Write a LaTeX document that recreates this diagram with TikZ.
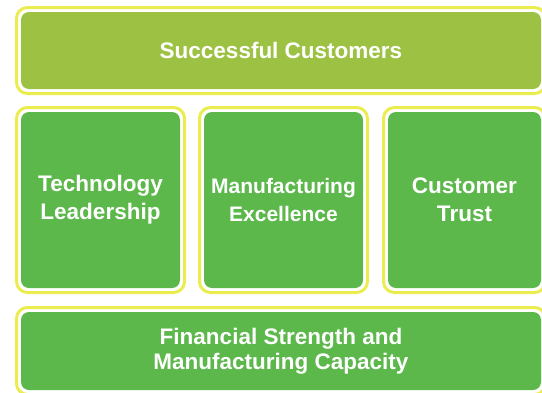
\documentclass[tikz,border=0pt]{standalone}
\usepackage{fontspec}
\setmainfont{Liberation Sans}
\usetikzlibrary{positioning,fit}
\definecolor{pillargreen}{RGB}{92,184,75}
\definecolor{roofgreen}{RGB}{157,194,67}
\definecolor{frameyellow}{RGB}{234,236,80}

\begin{document}
\begin{tikzpicture}[x=1pt, y=-1pt, node distance=23pt,
    block/.style={rectangle, fill=pillargreen, rounded corners=8pt, inner sep=0pt, outer sep=0pt,
      align=center, text=white, font=\fontsize{22.5}{28}\selectfont\bfseries},
    roof/.style={block, fill=roofgreen, minimum width=520pt, minimum height=77pt},
    pillar/.style={block, minimum width=159pt, minimum height=176pt},
    frame/.style={rectangle, draw=frameyellow, line width=3pt, rounded corners=11pt, inner sep=4.5pt}]
    \useasboundingbox (0,0) rectangle (542,392);
    \node [roof] (customers) at (281,50.5) {Successful Customers};
    \node [pillar, below=of customers.south west, anchor=north west] (technology) {Technology\\Leadership};
    \node [pillar, right=24pt of technology, font=\fontsize{21}{27.5}\selectfont\bfseries] (manufacturing) {Manufacturing\\Excellence};
    \node [pillar, right=25pt of manufacturing, minimum width=153pt] (trust) {Customer\\Trust};
    \node [roof, fill=pillargreen, below=24pt of technology.south west, anchor=north west, minimum height=78pt]
      (financial) {Financial Strength and\\[-3pt]Manufacturing Capacity};
    % yellow frame round each block
    \foreach \blk in {customers,technology,manufacturing,trust,financial}
      \node [frame, fit=(\blk)] {};
\end{tikzpicture}
\end{document}
